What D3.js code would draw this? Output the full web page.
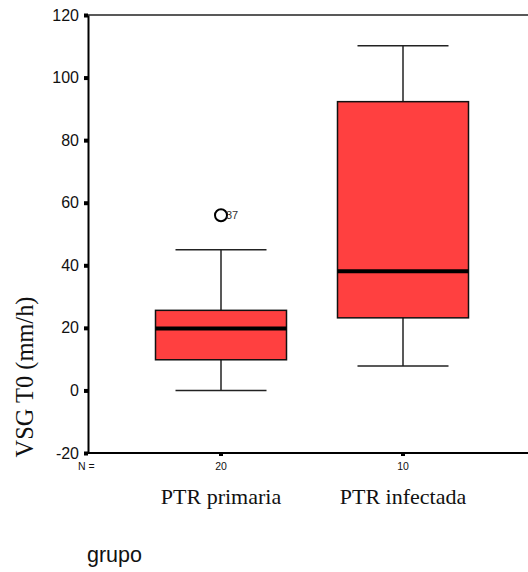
<!DOCTYPE html>
<html><head><meta charset="utf-8">
<script src="https://cdn.jsdelivr.net/npm/d3@7"></script>
<style>body{margin:0;background:#fff}svg{display:block}</style>
</head><body>
<svg id="c" width="528" height="572"></svg>
<script>
const categories = ["PTR primaria", "PTR infectada"];
const counts = [20, 10];
const lowerWhisker = [0, 7.8];
const q1 = [9.8, 23.2];
const median = [19.8, 38.1];
const q3 = [25.6, 92.3];
const upperWhisker = [45, 110.2];
const outliers = [[{v: 56, label: "37"}], []];
const yTicks = [-20, 0, 20, 40, 60, 80, 100, 120];

(function () {
const svg = d3.select("#c");
const pLeft = 88, pTop = 15, pBottom = 453, pRight = 530;
const y = d3.scaleLinear().domain([-20, 120]).range([pBottom, pTop]);
const x = d3.scaleBand().domain(categories).range([130, 494]).padding(0);
const xc = d => x(d) + x.bandwidth() / 2;
const boxW = 131, capW = 91;
const sans = "Liberation Sans, Arial, sans-serif";
const serif = "Liberation Serif, Times New Roman, serif";

// frame top
svg.append("line").attr("x1", pLeft).attr("x2", pRight).attr("y1", pTop).attr("y2", pTop)
  .attr("stroke", "#222").attr("stroke-width", 1.5);

// y axis
const yAxis = d3.axisLeft(y).tickValues(yTicks).tickSize(0).tickPadding(9).tickFormat(d => String(d));
const ga = svg.append("g").attr("transform", `translate(${pLeft},0)`).call(yAxis);
ga.select(".domain").attr("stroke", "#000").attr("stroke-width", 2);
ga.selectAll("text").attr("font-family", sans).attr("font-size", 16).attr("fill", "#111");
ga.selectAll(".tick").append("rect").attr("x", -4).attr("y", -2).attr("width", 4).attr("height", 4).attr("fill", "#000");

// x axis line
svg.append("line").attr("x1", pLeft - 1).attr("x2", pRight).attr("y1", pBottom).attr("y2", pBottom)
  .attr("stroke", "#000").attr("stroke-width", 2);
svg.selectAll(".xt").data(categories).enter().append("rect")
  .attr("x", d => xc(d) - 2).attr("y", pBottom).attr("width", 4).attr("height", 3).attr("fill", "#000");

// N labels
svg.append("text").attr("x", 78).attr("y", 470).text("N =")
  .attr("font-family", sans).attr("font-size", 10.5).attr("fill", "#111");
svg.selectAll(".nl").data(categories).enter().append("text")
  .attr("x", d => xc(d)).attr("y", 470).attr("text-anchor", "middle")
  .text((d, i) => counts[i])
  .attr("font-family", sans).attr("font-size", 10.5).attr("fill", "#111");

// category labels
svg.selectAll(".cl").data(categories).enter().append("text")
  .attr("x", d => xc(d)).attr("y", 504).attr("text-anchor", "middle").text(d => d)
  .attr("font-family", serif).attr("font-size", 22).attr("fill", "#111");

// axis titles
svg.append("text").attr("x", 87).attr("y", 562).text("grupo")
  .attr("font-family", sans).attr("font-size", 21.5).attr("fill", "#111");
svg.append("text").attr("transform", "translate(33,377) rotate(-90)").attr("text-anchor", "middle")
  .text("VSG T0 (mm/h)")
  .attr("textLength", 161).attr("lengthAdjust", "spacingAndGlyphs")
  .attr("font-family", serif).attr("font-size", 25).attr("fill", "#111");

// boxes
const g = svg.selectAll(".box").data(categories).enter().append("g");
g.append("line").attr("x1", d => xc(d)).attr("x2", d => xc(d))
  .attr("y1", (d, i) => y(lowerWhisker[i])).attr("y2", (d, i) => y(upperWhisker[i]))
  .attr("stroke", "#222").attr("stroke-width", 1.5);
g.append("line").attr("x1", d => xc(d) - capW / 2).attr("x2", d => xc(d) + capW / 2)
  .attr("y1", (d, i) => y(lowerWhisker[i])).attr("y2", (d, i) => y(lowerWhisker[i]))
  .attr("stroke", "#222").attr("stroke-width", 1.5);
g.append("line").attr("x1", d => xc(d) - capW / 2).attr("x2", d => xc(d) + capW / 2)
  .attr("y1", (d, i) => y(upperWhisker[i])).attr("y2", (d, i) => y(upperWhisker[i]))
  .attr("stroke", "#222").attr("stroke-width", 1.5);
g.append("rect").attr("x", d => xc(d) - boxW / 2).attr("width", boxW)
  .attr("y", (d, i) => y(q3[i])).attr("height", (d, i) => y(q1[i]) - y(q3[i]))
  .attr("fill", "#ff4040").attr("stroke", "#111").attr("stroke-width", 1.5);
g.append("line").attr("x1", d => xc(d) - boxW / 2).attr("x2", d => xc(d) + boxW / 2)
  .attr("y1", (d, i) => y(median[i])).attr("y2", (d, i) => y(median[i]))
  .attr("stroke", "#000").attr("stroke-width", 4);

// outliers
categories.forEach((c, i) => {
  outliers[i].forEach(o => {
    svg.append("circle").attr("cx", xc(c)).attr("cy", y(o.v)).attr("r", 6)
      .attr("fill", "none").attr("stroke", "#000").attr("stroke-width", 2);
    svg.append("text").attr("x", xc(c) + 5).attr("y", y(o.v) + 4).text(o.label)
      .attr("font-family", sans).attr("font-size", 11).attr("fill", "#333");
  });
});
})();
</script>
</body></html>
